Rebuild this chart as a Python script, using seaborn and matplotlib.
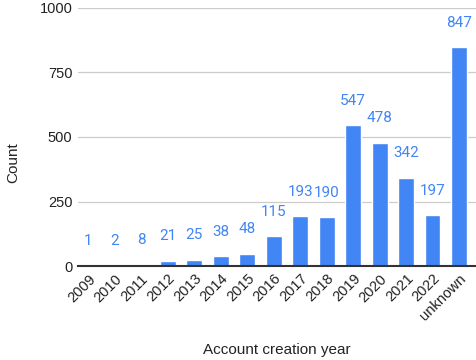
import matplotlib
matplotlib.use("Agg")
import matplotlib.pyplot as plt
import seaborn as sns

annees = ["2009", "2010", "2011", "2012", "2013", "2014", "2015", "2016",
          "2017", "2018", "2019", "2020", "2021", "2022", "unknown"]
comptes = [1, 2, 8, 21, 25, 38, 48, 115, 193, 190, 547, 478, 342, 197, 847]
graduations = [0, 250, 500, 750, 1000]

bleu = "#4285F4"

sns.set_style("white")
plt.rcParams["font.family"] = ["Liberation Sans", "DejaVu Sans"]

fig = plt.figure(figsize=(4.76, 3.6), dpi=100)
ax = fig.add_axes([0.164, 0.261, 0.836, 0.717])

sns.barplot(x=annees, y=comptes, color=bleu, width=0.6, saturation=1, ax=ax)

# étiquettes de valeurs au-dessus des barres
for i, v in enumerate(comptes):
    ax.annotate(str(v), xy=(i, v), xytext=(0, 17.5), textcoords="offset points",
                ha="center", va="center", color=bleu, fontsize=11,
                family=["Roboto", "DejaVu Sans"])

ax.set_ylim(0, 1000)
ax.set_xlim(-0.38, 14.64)
ax.set_yticks(graduations)
ax.set_yticklabels([str(g) for g in graduations], fontsize=10.5, color="#222222")
ax.yaxis.grid(True, color="#cccccc", linewidth=0.9)
ax.set_axisbelow(True)
ax.tick_params(axis="both", length=0, pad=4)
plt.setp(ax.get_xticklabels(), rotation=45, ha="right", rotation_mode="anchor",
         fontsize=10.5, color="#222222")

for s in ["top", "right", "left"]:
    ax.spines[s].set_visible(False)
ax.spines["bottom"].set_color("#333333")
ax.spines["bottom"].set_linewidth(1.5)

ax.set_ylabel("Count", fontsize=11, color="#222222")
ax.set_xlabel("Account creation year", fontsize=11, color="#222222")
ax.xaxis.set_label_coords(0.5, -0.3)
ax.yaxis.set_label_coords(-0.145, 0.4)

fig.savefig("out.png", dpi=100)
